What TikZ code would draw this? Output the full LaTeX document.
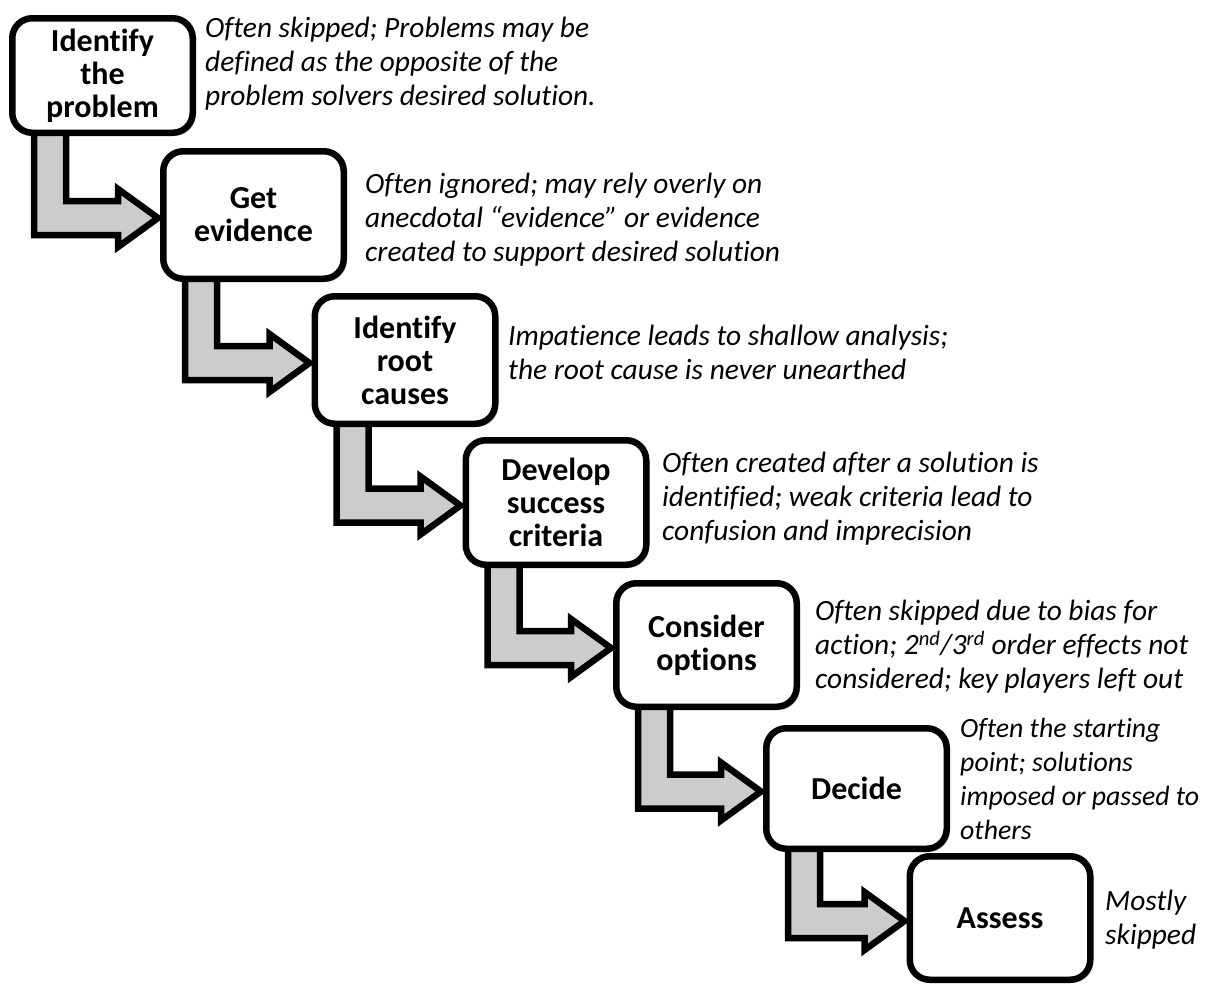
\documentclass[tikz,border=0pt]{standalone}
\usepackage{fontspec}
\setmainfont{Carlito}[Ligatures=NoCommon]
\usetikzlibrary{calc,shadows,backgrounds}
\begin{document}
\begin{tikzpicture}[x=1pt,y=1pt,line join=miter,
	stepbox/.style={draw,line width=6.5pt,rounded corners=20pt,fill=white,minimum width=180.5pt,inner sep=2pt,align=center,font=\fontsize{32}{33}\selectfont\bfseries,drop shadow={shadow xshift=3pt,shadow yshift=-3pt,opacity=.3}},
	note/.style={anchor=north west,inner sep=0pt,align=left,font=\fontsize{#1}{34}\selectfont\itshape},
	elbow/.style={draw,line width=6.5pt,fill=gray!40}]
	\useasboundingbox(0,0)rectangle(1210,-985);
	\foreach \i/\x/\y/\h/\t in {1/102.5/75.5/114.5/{Identify\\the\\problem},2/253.5/215/127.5/{Get\\evidence},3/405/360/127.5/{Identify\\root\\causes},4/556/502.5/124.5/{Develop\\success\\criteria},5/706.5/645/123.5/{Consider\\options},6/856.5/788.5/120.5/{Decide},7/1000/918/123.5/{Assess}}
	\node[stepbox,minimum height=\h](s\i)at(\x,-\y){\t};
	\begin{scope}[on background layer]
		\foreach \m[count=\n from 2] in {1,...,6}
		\draw[elbow]($(s\m.south west)+(25,20)$)|-($(s\n.west)+(-42,-20)$)--++(0,-12)--($(s\n.west)+(-2,-3)$)--($(s\n.west)+(-42,26)$)--++(0,-12)-|($(s\m.south west)+(57,20)$)--cycle;
	\end{scope}
	\foreach \i/\x/\y/\s/\t in {1/205/17/29.4/{Often skipped; Problems may be\\defined as the opposite of the\\problem solvers desired solution.},
		2/365/173/29.4/{Often ignored; may rely overly on\\anecdotal “evidence” or evidence\\created to support desired solution},
		3/508/325/29.4/{Impatience leads to shallow analysis;\\the root cause is never unearthed},
		4/662/452/29.4/{Often created after a solution is\\identified; weak criteria lead to\\confusion and imprecision},
		5/815/600/29.4/{Often skipped due to bias for\\action; 2\textsuperscript{nd}/3\textsuperscript{rd} order effects not\\considered; key players left out},
		6/960/718/27.8/{Often the starting\\point; solutions\\imposed or passed to\\others},
		7/1105/890/29.4/{Mostly\\skipped}}
	\node[note=\s](n\i)at(\x,-\y){\t};
\end{tikzpicture}
\end{document}
